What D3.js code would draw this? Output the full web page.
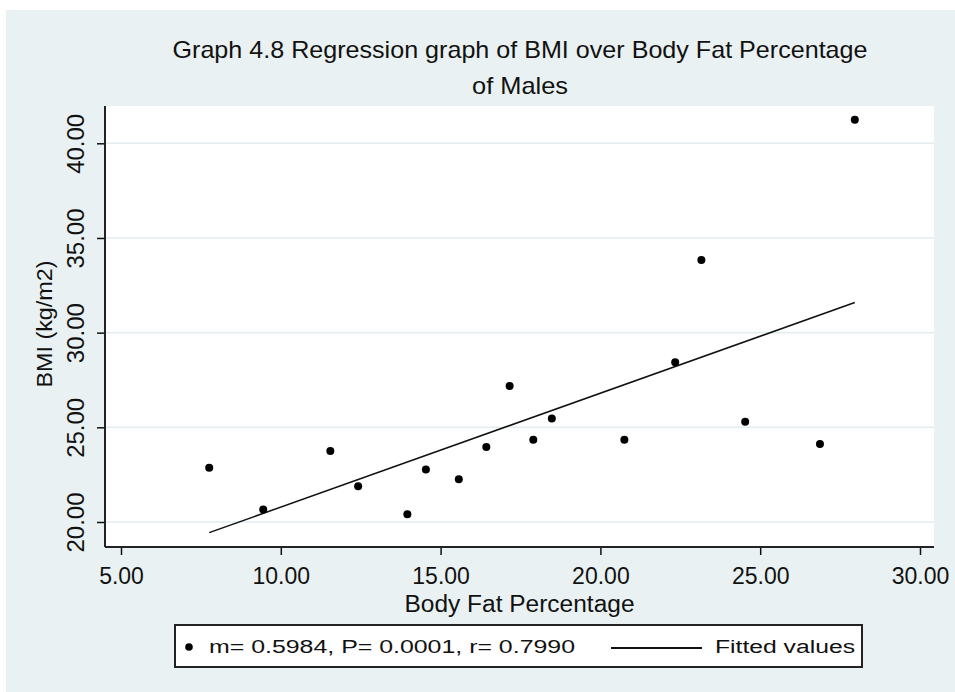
<html>
  <meta charset="utf-8">
  <head>
  <style>
    body { margin: 0; background: #fff; }
    svg text { font-family: "Liberation Sans", Arial, sans-serif; fill: #111; }
  </style>
  </head>
  <body>
    <div id="chart"></div>
    <script src="https://d3js.org/d3.v7.min.js"></script>
    <script>
    'use strict';

    // values
    var bodyFat = [7.76, 9.45, 11.55, 12.42, 13.96, 14.54, 15.57, 16.43, 17.16,
                   17.90, 18.48, 20.75, 22.34, 23.16, 24.53, 26.87, 27.96];
    var bmi     = [22.87, 20.66, 23.75, 21.89, 20.41, 22.77, 22.26, 23.96, 27.18,
                   24.35, 25.46, 24.35, 28.44, 33.84, 25.30, 24.12, 41.24];
    var fitX = [7.76, 27.96];
    var fitY = [19.44, 31.59];
    var xTicks = [5, 10, 15, 20, 25, 30];
    var yTicks = [20, 25, 30, 35, 40];
    var titleLines = ['Graph 4.8 Regression graph of BMI over Body Fat Percentage', 'of Males'];
    var legendLabels = ['m= 0.5984, P= 0.0001, r= 0.7990', 'Fitted values'];

    var W = 955, H = 692;
    var plot = {left: 105, right: 934, top: 106, bottom: 547};
    var FONT = '"Liberation Sans", Arial, sans-serif';

    var svg = d3.select('#chart').append('svg')
      .attr('width', W).attr('height', H);

    svg.append('rect')
      .attr('x', 6).attr('y', 10)
      .attr('width', W - 6).attr('height', H - 10)
      .attr('fill', '#e9f1f2');

    var x = d3.scaleLinear().domain([5, 30]).range([121, 920]);
    var y = d3.scaleLinear().domain([20, 40]).range([522, 143.3]);
    var fmt = d3.format('.2f');

    svg.append('rect')
      .attr('x', plot.left).attr('y', plot.top)
      .attr('width', plot.right - plot.left).attr('height', plot.bottom - plot.top)
      .attr('fill', '#fff');

    // grid
    svg.append('g').selectAll('line').data(yTicks).enter().append('line')
      .attr('x1', plot.left).attr('x2', plot.right)
      .attr('y1', function(d) { return y(d); })
      .attr('y2', function(d) { return y(d); })
      .attr('stroke', '#e3edf0').attr('stroke-width', 1.5);

    // title
    var titleLen = [695, 96];
    svg.append('g').selectAll('text').data(titleLines).enter().append('text')
      .attr('x', 520)
      .attr('y', function(d, i) { return 58 + i * 36; })
      .attr('text-anchor', 'middle')
      .attr('textLength', function(d, i) { return titleLen[i]; })
      .attr('lengthAdjust', 'spacingAndGlyphs')
      .style('font-size', '24px')
      .text(function(d) { return d; });

    // x axis
    var gx = svg.append('g')
      .attr('transform', 'translate(0,' + plot.bottom + ')')
      .call(d3.axisBottom(x).tickValues(xTicks).tickFormat(fmt).tickSize(8).tickSizeOuter(0));
    gx.select('.domain').remove();
    gx.selectAll('.tick line').attr('stroke', '#111').attr('stroke-width', 1.5);
    gx.selectAll('.tick text')
      .attr('y', 21).attr('dy', '0.71em')
      .style('font-size', '23px').style('font-family', FONT)
      .attr('fill', '#111');

    // y axis
    var gy = svg.append('g')
      .attr('transform', 'translate(' + plot.left + ',0)')
      .call(d3.axisLeft(y).tickValues(yTicks).tickFormat(fmt).tickSize(8).tickSizeOuter(0));
    gy.select('.domain').remove();
    gy.selectAll('.tick line').attr('stroke', '#111').attr('stroke-width', 1.5);
    gy.selectAll('.tick text')
      .attr('transform', 'rotate(-90)')
      .attr('x', 0).attr('y', -21.5).attr('dy', 0)
      .attr('text-anchor', 'middle')
      .attr('textLength', 60).attr('lengthAdjust', 'spacingAndGlyphs')
      .style('font-size', '23px').style('font-family', FONT)
      .attr('fill', '#111');

    // axis lines
    svg.append('line')
      .attr('x1', plot.left).attr('x2', plot.left)
      .attr('y1', plot.top).attr('y2', plot.bottom)
      .attr('stroke', '#222').attr('stroke-width', 2);
    svg.append('line')
      .attr('x1', plot.left).attr('x2', plot.right)
      .attr('y1', plot.bottom).attr('y2', plot.bottom)
      .attr('stroke', '#222').attr('stroke-width', 2);

    // axis titles
    svg.append('text')
      .attr('x', (plot.left + plot.right) / 2).attr('y', 612)
      .attr('text-anchor', 'middle')
      .attr('textLength', 230).attr('lengthAdjust', 'spacingAndGlyphs')
      .style('font-size', '23px')
      .text('Body Fat Percentage');
    svg.append('text')
      .attr('transform', 'translate(52,324) rotate(-90)')
      .attr('text-anchor', 'middle')
      .attr('textLength', 127).attr('lengthAdjust', 'spacingAndGlyphs')
      .style('font-size', '22px')
      .text('BMI (kg/m2)');

    // fitted line
    svg.append('path')
      .datum(d3.zip(fitX, fitY))
      .attr('d', d3.line().x(function(d) { return x(d[0]); }).y(function(d) { return y(d[1]); }))
      .attr('fill', 'none').attr('stroke', '#111').attr('stroke-width', 1.5);

    // points
    svg.append('g').selectAll('circle').data(d3.zip(bodyFat, bmi)).enter().append('circle')
      .attr('cx', function(d) { return x(d[0]); })
      .attr('cy', function(d) { return y(d[1]); })
      .attr('r', 4)
      .attr('fill', '#000');

    // legend
    var lg = svg.append('g');
    lg.append('rect')
      .attr('x', 175).attr('y', 625).attr('width', 687).attr('height', 42)
      .attr('fill', '#fff').attr('stroke', '#222').attr('stroke-width', 2);
    lg.append('circle')
      .attr('cx', 189).attr('cy', 647).attr('r', 3.8).attr('fill', '#000');
    lg.append('text')
      .attr('x', 209).attr('y', 652.5)
      .attr('textLength', 366).attr('lengthAdjust', 'spacingAndGlyphs')
      .style('font-size', '18px')
      .text(legendLabels[0]);
    lg.append('line')
      .attr('x1', 611).attr('x2', 702).attr('y1', 648).attr('y2', 648)
      .attr('stroke', '#111').attr('stroke-width', 1.8);
    lg.append('text')
      .attr('x', 715).attr('y', 652.5)
      .attr('textLength', 140).attr('lengthAdjust', 'spacingAndGlyphs')
      .style('font-size', '18px')
      .text(legendLabels[1]);
    </script>
  </body>
</html>
